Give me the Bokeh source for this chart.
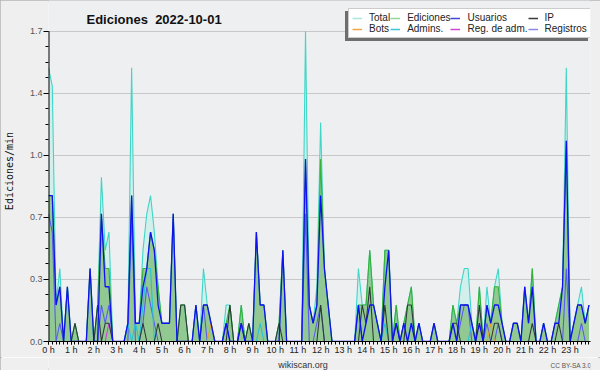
from bokeh.plotting import figure
from bokeh.layouts import column
from bokeh.models import (Range1d, FixedTicker, PrintfTickFormatter, Legend,
                          LegendItem, Label)
from bokeh.embed import file_html
from bokeh.resources import INLINE

# 10-minute bins over the day
minutes = list(range(0, 1440, 10))
hour_ticks = list(range(0, 24))
y_ticks = [0.0, 0.34, 0.68, 1.02, 1.36, 1.7]
y_minor = [0.0, 0.085, 0.17, 0.255, 0.34, 0.425, 0.51, 0.595, 0.68, 0.765,
           0.85, 0.935, 1.02, 1.105, 1.19, 1.275, 1.36, 1.445, 1.53, 1.615, 1.7]

total = [
    1.5, 1.4, 0.2, 0.4, 0, 0.3,   0, 0.1, 0, 0, 0, 0.4,
    0, 0.2, 0.9, 0.5, 0.6, 0,     0, 0, 0, 0.1, 1.5, 0.1,
    0.1, 0.5, 0.7, 0.8, 0.6, 0.3, 0.1, 0.1, 0.1, 0.7, 0, 0.2,
    0.2, 0, 0, 0.2, 0, 0.4,       0.2, 0.1, 0, 0, 0, 0.2,
    0.2, 0, 0, 0.2, 0, 0.1,       0, 0.6, 0.2, 0.2, 0, 0,
    0, 0.1, 0.5, 0, 0, 0,         0, 0, 1.7, 0.2, 0.1, 0.3,
    1.2, 0.4, 0.2, 0, 0, 0,       0, 0, 0, 0, 0.4, 0.2,
    0.2, 0.5, 0.2, 0.1, 0, 0.5,   0.5, 0, 0.2, 0, 0.1, 0.2,
    0.3, 0, 0.1, 0, 0, 0,         0.1, 0, 0, 0, 0, 0.2,
    0.1, 0.3, 0.4, 0.4, 0.1, 0,   0.3, 0, 0.3, 0.1, 0.3, 0.4,
    0.1, 0, 0, 0.1, 0.1, 0,       0.3, 0.1, 0.4, 0, 0, 0.1,
    0, 0, 0.1, 0.2, 0.3, 1.5,     0, 0.1, 0.2, 0.3, 0.1, 0.2,
]
ediciones = [
    0.8, 0.8, 0.2, 0.3, 0, 0.3,   0, 0.1, 0, 0, 0, 0.4,
    0, 0.2, 0.7, 0.4, 0.4, 0,     0, 0, 0, 0.1, 0.8, 0.1,
    0.1, 0.4, 0.4, 0.6, 0.5, 0.3, 0.1, 0.1, 0.1, 0.7, 0, 0.2,
    0.2, 0, 0, 0.2, 0, 0.2,       0.2, 0.1, 0, 0, 0, 0.1,
    0.2, 0, 0, 0.2, 0, 0.1,       0, 0.6, 0.2, 0.2, 0, 0,
    0, 0.1, 0.5, 0, 0, 0,         0, 0, 1.0, 0.2, 0.1, 0.2,
    1.0, 0.4, 0.2, 0, 0, 0,       0, 0, 0, 0, 0.2, 0.2,
    0.2, 0.5, 0.2, 0.1, 0, 0.5,   0.5, 0, 0.2, 0, 0.1, 0.2,
    0.3, 0, 0.1, 0, 0, 0,         0.1, 0, 0, 0, 0, 0.2,
    0.1, 0.2, 0.2, 0.2, 0.1, 0,   0.3, 0, 0.2, 0.1, 0.3, 0.3,
    0.1, 0, 0, 0.1, 0.1, 0,       0.3, 0.1, 0.4, 0, 0, 0.1,
    0, 0, 0.1, 0.2, 0.3, 1.1,     0, 0.1, 0.2, 0.2, 0.1, 0.2,
]
usuarios = [
    0.8, 0.8, 0.2, 0.3, 0, 0.3,   0, 0, 0, 0, 0, 0.4,
    0, 0, 0.7, 0.3, 0.3, 0,       0, 0, 0, 0.1, 0.8, 0.1,
    0.1, 0.3, 0.4, 0.6, 0.5, 0.2, 0.1, 0.1, 0.1, 0.7, 0, 0,
    0, 0, 0, 0.2, 0, 0.2,         0.2, 0.1, 0, 0, 0, 0.1,
    0, 0, 0, 0.1, 0, 0,           0, 0.6, 0.2, 0.2, 0, 0,
    0, 0, 0.5, 0, 0, 0,           0, 0, 1.0, 0.2, 0.1, 0.2,
    0.8, 0.4, 0.2, 0, 0, 0,       0, 0, 0, 0, 0.2, 0,
    0.1, 0.2, 0.2, 0.1, 0, 0.3,   0.5, 0, 0.1, 0, 0.1, 0,
    0.1, 0, 0.1, 0, 0, 0,         0.1, 0, 0, 0, 0, 0.1,
    0, 0.2, 0.2, 0.2, 0.1, 0,     0.1, 0, 0.2, 0.1, 0.2, 0.2,
    0.1, 0, 0, 0.1, 0.1, 0,       0.3, 0.1, 0.3, 0, 0, 0.1,
    0, 0, 0.1, 0.1, 0.3, 1.1,     0, 0.1, 0.2, 0.2, 0.1, 0.2,
]
ip = [
    0, 0, 0, 0, 0, 0,             0, 0.1, 0, 0, 0, 0,
    0, 0.2, 0, 0.1, 0.1, 0,       0, 0, 0, 0, 0, 0,
    0, 0.1, 0, 0, 0, 0.1,         0, 0, 0, 0, 0, 0.2,
    0.2, 0, 0, 0, 0, 0,           0, 0, 0, 0, 0, 0,
    0.2, 0, 0, 0.1, 0, 0.1,       0, 0, 0, 0, 0, 0,
    0, 0.1, 0, 0, 0, 0,           0, 0, 0, 0, 0, 0,
    0.2, 0, 0, 0, 0, 0,           0, 0, 0, 0, 0, 0.2,
    0.1, 0.3, 0, 0, 0, 0.2,       0, 0, 0.1, 0, 0, 0.2,
    0.2, 0, 0, 0, 0, 0,           0, 0, 0, 0, 0, 0.1,
    0.1, 0, 0, 0, 0, 0,           0.2, 0, 0, 0, 0.1, 0.1,
    0, 0, 0, 0, 0, 0,             0, 0, 0.1, 0, 0, 0,
    0, 0, 0, 0.1, 0, 0,           0, 0, 0, 0, 0, 0,
]
registros = [
    0.7, 0.6, 0, 0.1, 0, 0,       0, 0, 0, 0, 0, 0,
    0, 0, 0.2, 0.1, 0.2, 0,       0, 0, 0, 0, 0.7, 0,
    0, 0.1, 0.3, 0.2, 0.1, 0,     0, 0, 0, 0, 0, 0,
    0, 0, 0, 0, 0, 0.2,           0, 0, 0, 0, 0, 0.1,
    0, 0, 0, 0, 0, 0,             0, 0, 0, 0, 0, 0,
    0, 0, 0, 0, 0, 0,             0, 0, 0.7, 0, 0, 0.1,
    0.2, 0, 0, 0, 0, 0,           0, 0, 0, 0, 0.2, 0,
    0, 0, 0, 0, 0, 0,             0, 0, 0, 0, 0, 0,
    0, 0, 0, 0, 0, 0,             0, 0, 0, 0, 0, 0,
    0, 0.1, 0.2, 0.2, 0, 0,       0, 0, 0.1, 0, 0, 0.1,
    0, 0, 0, 0, 0, 0,             0, 0, 0, 0, 0, 0,
    0, 0, 0, 0, 0, 0.4,           0, 0, 0, 0.1, 0, 0,
]
bots = [0] * 144
bots[43] = 0.1
bots[114] = 0.1
bots[117] = 0.1
admins = [0] * 144
for k, v in [(21, 0.1), (23, 0.1), (25, 0.2), (26, 0.4), (27, 0.4),
             (56, 0.1), (89, 0.1), (96, 0.1), (112, 0.1)]:
    admins[k] = v
reg_adm = [0] * 144
reg_adm[16] = 0.1

series_names = ["Total", "Ediciones", "Usuarios", "IP",
                "Bots", "Admins.", "Reg. de adm.", "Registros"]

hours = [m / 60 for m in minutes]
nan = float("nan")

# The frame runs up to the top edge of the canvas so that the title and the
# legend (which sit above the 1.7 line) are drawn inside it.
FRAME_H = 343          # pixels from canvas top to the x axis
PLOT_TOP = 31          # pixel row of the y-axis maximum
y_top = y_ticks[-1]
y_end = y_top * FRAME_H / (FRAME_H - PLOT_TOP)

p = figure(width=600, height=357, title=None,
           x_range=Range1d(0, 23.9), y_range=Range1d(0, y_end),
           output_backend="svg", toolbar_location=None,
           min_border_left=46, min_border_right=10,
           min_border_top=0, min_border_bottom=14)
p.background_fill_color = "#eeeff1"
p.border_fill_color = "#efefef"
p.outline_line_color = None

# areas
p.varea(x=hours, y1=[0] * len(hours), y2=total, fill_color="#d2efec")
p.varea(x=hours, y1=[0] * len(hours), y2=ediciones, fill_color="#92c992")

# lines
p.line(hours, total, line_color="#3ed6c6", line_width=1.1)
p.line(hours, ediciones, line_color="#36b036", line_width=1.1)
p.line(hours, registros, line_color="#5a5af2", line_width=1.1)
p.line(hours, admins, line_color="#20c4d8", line_width=1.1)
p.line(hours, bots, line_color="#f0a020", line_width=1.1)
p.line(hours, reg_adm, line_color="#d040d8", line_width=1.1)
p.line(hours, ip, line_color="#2e3a38", line_width=1.1)
p.line(hours, usuarios, line_color="#1010f0", line_width=1.3)

# y axis line only up to the axis maximum
p.segment(x0=[0], y0=[0], x1=[0], y1=[y_top], line_color="black", line_width=2)

# axes
p.xaxis.ticker = FixedTicker(ticks=hour_ticks, minor_ticks=hours)
p.xaxis.formatter = PrintfTickFormatter(format="%d h")
p.yaxis.ticker = FixedTicker(ticks=y_ticks, minor_ticks=y_minor)
p.yaxis.formatter = PrintfTickFormatter(format="%.1f")
for ax in (p.xaxis[0], p.yaxis[0]):
    ax.major_tick_line_color = "black"
    ax.minor_tick_line_color = "black"
    ax.major_tick_in = 0
    ax.minor_tick_in = 0
    ax.major_label_text_font = "Liberation Sans"
    ax.major_label_text_font_size = "9px"
p.xaxis.axis_line_color = "black"
p.yaxis.axis_line_color = None
p.xaxis.major_label_text_color = "#222222"
p.yaxis.major_label_text_color = "#555555"
p.xaxis.major_tick_out = 3
p.xaxis.minor_tick_out = 3
p.xaxis.major_label_standoff = 0
p.yaxis.major_tick_out = 5
p.yaxis.minor_tick_out = 3
p.yaxis.major_label_standoff = 1
p.yaxis.axis_label = "Ediciones/min"
p.yaxis.axis_label_text_font = "DejaVu Sans Mono"
p.yaxis.axis_label_text_font_size = "10px"
p.yaxis.axis_label_text_font_style = "normal"
p.yaxis.axis_label_text_color = "#111111"
p.yaxis.axis_label_standoff = 12
p.xgrid.visible = False
p.ygrid.ticker = FixedTicker(ticks=y_ticks)
p.ygrid.grid_line_color = "#c8c8c8"

# title
p.add_layout(Label(x=38, y=FRAME_H - 21, x_units="screen", y_units="screen",
                   text="Ediciones\u00a0 2022-10-01", text_font="Liberation Sans",
                   text_font_style="bold", text_font_size="13px",
                   text_color="#111111", text_baseline="alphabetic"))

# legend with a drop shadow (the shadow is a blank legend box)
legend_colors = ["#a8e6de", "#96d696", "#4646d6", "#3a3a3a",
                 "#f2a446", "#3ec6d6", "#d046d6", "#8a8ae6"]
blank = p.line(x=[nan], y=[nan], line_alpha=0)
items = []
for name, c in zip(series_names, legend_colors):
    r = p.line(x=[nan], y=[nan], line_color=c, line_width=1.5)
    items.append(LegendItem(label=name, renderers=[r]))

shadow = Legend(items=[LegendItem(label="", renderers=[blank])],
                location=(297, FRAME_H - 43), glyph_width=243, glyph_height=30,
                label_width=0, label_height=0, label_standoff=0, padding=0,
                margin=0, spacing=0, border_line_color=None,
                background_fill_color="#6e6e6e", background_fill_alpha=1)
legend = Legend(items=items, location=(300, FRAME_H - 40),
                orientation="horizontal", ncols=4, glyph_width=10,
                glyph_height=10, label_height=10, label_width=10,
                label_standoff=7, spacing=0, padding=3, margin=0,
                label_text_font="Liberation Sans", label_text_font_size="10px",
                label_text_color="#222222", background_fill_color="white",
                background_fill_alpha=1, border_line_color="#9a9a9a")
p.add_layout(shadow)
p.add_layout(legend)

# footer strip (its frame lines up with the main frame: 46 px from the left)
foot = figure(width=600, height=13, x_range=Range1d(0, 600),
              y_range=Range1d(0, 13), x_axis_type=None, y_axis_type=None,
              output_backend="svg", toolbar_location=None, title=None,
              min_border=0, min_border_left=0, min_border_right=0,
              min_border_top=0, min_border_bottom=0)
foot.background_fill_color = "#efefef"
foot.border_fill_color = "#efefef"
foot.outline_line_color = None
foot.add_layout(Label(x=254.5, y=6, x_units="screen", y_units="screen",
                      text="wikiscan.org", text_font="Liberation Sans",
                      text_font_size="9px", text_color="#333333",
                      text_align="center", text_baseline="alphabetic"))
foot.add_layout(Label(x=543, y=5, x_units="screen", y_units="screen",
                      text="CC BY-SA 3.0", text_font="Liberation Sans",
                      text_font_size="6.5px", text_color="#555555",
                      text_align="right", text_baseline="alphabetic"))

page = column(p, foot, spacing=0,
              styles={"outline": "2px solid #b4b4b4", "outline-offset": "-2px"})

open("out.html", "w").write(file_html(page, INLINE))
